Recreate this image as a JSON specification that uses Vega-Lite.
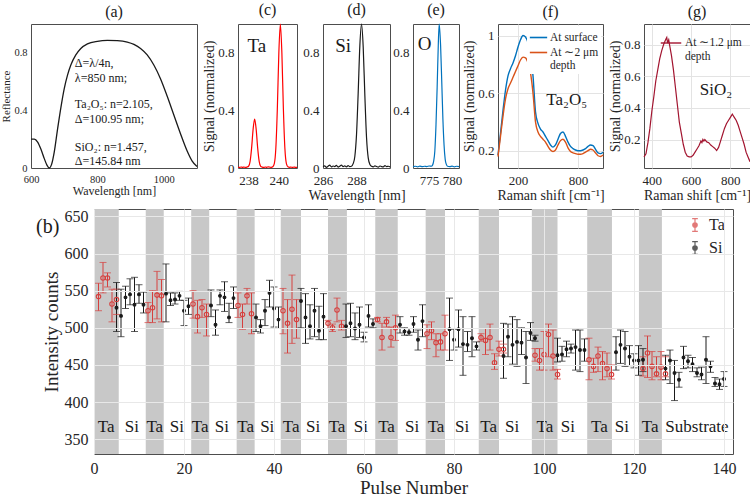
{
"$schema": "https://vega.github.io/schema/vega-lite/v6.json",
"background": "white",
"padding": {"left": 0, "top": 1, "right": 0, "bottom": 0},
"spacing": 4,
"resolve": {"scale": {"stroke": "independent", "color": "independent"}, "legend": {"stroke": "independent", "color": "independent"}},
"config": {
  "font": "Liberation Serif",
  "view": {"stroke": "#4d4d4d", "strokeWidth": 1},
  "axis": {"ticks": false, "domain": false, "grid": false, "labelColor": "#262626", "titleColor": "#262626", "titleFontWeight": "normal", "labelFont": "Liberation Serif", "titleFont": "Liberation Serif", "labelOverlap": false, "labelFlush": false, "gridColor": "#e3e3e3", "labelFontSize": 13, "titleFontSize": 14},
  "axisX": {"labelPadding": 6, "titlePadding": 1},
  "axisY": {"labelPadding": 4, "titlePadding": 1},
  "title": {"font": "Liberation Serif", "fontWeight": "normal", "fontSize": 16, "offset": 4, "color": "#1a1a1a"},
  "legend": {"labelFont": "Liberation Serif", "labelColor": "#262626"},
  "text": {"font": "Liberation Serif", "color": "#1a1a1a"}
},
"datasets": {
  "refl": [{"x":600,"y":0.2},{"x":610,"y":0.2},{"x":620,"y":0.18},{"x":630,"y":0.13},{"x":640,"y":0.065},{"x":648,"y":0.02},{"x":655,"y":0.0},{"x":662,"y":0.025},{"x":670,"y":0.11},{"x":680,"y":0.27},{"x":690,"y":0.42},{"x":700,"y":0.55},{"x":710,"y":0.645},{"x":720,"y":0.715},{"x":735,"y":0.785},{"x":750,"y":0.83},{"x":770,"y":0.862},{"x":800,"y":0.88},{"x":830,"y":0.886},{"x":860,"y":0.884},{"x":890,"y":0.874},{"x":910,"y":0.858},{"x":930,"y":0.83},{"x":950,"y":0.785},{"x":970,"y":0.715},{"x":990,"y":0.62},{"x":1010,"y":0.5},{"x":1030,"y":0.37},{"x":1050,"y":0.24},{"x":1070,"y":0.12},{"x":1085,"y":0.05},{"x":1100,"y":0.01}],
  "c": [{"x":237.3,"y":0.005},{"x":237.4,"y":0.004},{"x":237.5,"y":0.007},{"x":237.6,"y":0.005},{"x":237.7,"y":0.006},{"x":237.8,"y":0.004},{"x":237.9,"y":0.007},{"x":238.0,"y":0.012},{"x":238.1,"y":0.046},{"x":238.2,"y":0.14},{"x":238.3,"y":0.27},{"x":238.4,"y":0.34},{"x":238.5,"y":0.27},{"x":238.6,"y":0.14},{"x":238.7,"y":0.046},{"x":238.8,"y":0.012},{"x":238.9,"y":0.006},{"x":239.0,"y":0.004},{"x":239.1,"y":0.007},{"x":239.2,"y":0.005},{"x":239.3,"y":0.008},{"x":239.4,"y":0.006},{"x":239.5,"y":0.004},{"x":239.6,"y":0.008},{"x":239.7,"y":0.03},{"x":239.8,"y":0.135},{"x":239.9,"y":0.41},{"x":240.0,"y":0.8},{"x":240.1,"y":1.0},{"x":240.2,"y":0.8},{"x":240.3,"y":0.41},{"x":240.4,"y":0.135},{"x":240.5,"y":0.03},{"x":240.6,"y":0.008},{"x":240.7,"y":0.005},{"x":240.8,"y":0.006},{"x":240.9,"y":0.004},{"x":241.0,"y":0.006},{"x":241.1,"y":0.005},{"x":241.2,"y":0.005}],
  "d": [{"x":286.0,"y":0.01},{"x":286.1,"y":0.015},{"x":286.2,"y":0.005},{"x":286.3,"y":0.012},{"x":286.4,"y":0.02},{"x":286.5,"y":0.008},{"x":286.6,"y":0.014},{"x":286.7,"y":0.01},{"x":286.8,"y":0.018},{"x":286.9,"y":0.006},{"x":287.0,"y":0.012},{"x":287.1,"y":0.02},{"x":287.2,"y":0.01},{"x":287.3,"y":0.015},{"x":287.4,"y":0.008},{"x":287.5,"y":0.016},{"x":287.6,"y":0.01},{"x":287.7,"y":0.012},{"x":287.8,"y":0.03},{"x":287.9,"y":0.08},{"x":288.0,"y":0.23},{"x":288.1,"y":0.52},{"x":288.2,"y":0.85},{"x":288.3,"y":1.0},{"x":288.4,"y":0.84},{"x":288.5,"y":0.5},{"x":288.6,"y":0.21},{"x":288.7,"y":0.07},{"x":288.8,"y":0.025},{"x":288.9,"y":0.012},{"x":289.0,"y":0.008},{"x":289.1,"y":0.015},{"x":289.2,"y":0.01},{"x":289.3,"y":0.006},{"x":289.4,"y":0.014},{"x":289.5,"y":0.01},{"x":289.6,"y":0.008},{"x":289.7,"y":0.016},{"x":289.8,"y":0.01},{"x":289.9,"y":0.012},{"x":290.0,"y":0.008}],
  "e": [{"x":771.5,"y":0.01},{"x":772,"y":0.012},{"x":772.5,"y":0.008},{"x":773,"y":0.013},{"x":773.5,"y":0.009},{"x":774,"y":0.012},{"x":774.5,"y":0.01},{"x":775,"y":0.014},{"x":775.5,"y":0.012},{"x":775.75,"y":0.02},{"x":776,"y":0.05},{"x":776.25,"y":0.12},{"x":776.5,"y":0.3},{"x":776.75,"y":0.56},{"x":777,"y":0.86},{"x":777.2,"y":1.0},{"x":777.5,"y":0.85},{"x":777.75,"y":0.6},{"x":778,"y":0.34},{"x":778.25,"y":0.16},{"x":778.5,"y":0.06},{"x":778.75,"y":0.025},{"x":779,"y":0.012},{"x":779.5,"y":0.01},{"x":780,"y":0.013},{"x":780.5,"y":0.008},{"x":781,"y":0.012},{"x":781.5,"y":0.01}],
  "f": [
    {"x":0,"y":0.17,"s":"At surface"},{"x":25,"y":0.32,"s":"At surface"},{"x":50,"y":0.48,"s":"At surface"},{"x":75,"y":0.62,"s":"At surface"},{"x":100,"y":0.72,"s":"At surface"},{"x":125,"y":0.77,"s":"At surface"},{"x":150,"y":0.81,"s":"At surface"},{"x":175,"y":0.86,"s":"At surface"},{"x":200,"y":0.92,"s":"At surface"},{"x":225,"y":0.97,"s":"At surface"},{"x":250,"y":1.0,"s":"At surface"},{"x":275,"y":0.99,"s":"At surface"},{"x":300,"y":0.95,"s":"At surface"},{"x":325,"y":0.87,"s":"At surface"},{"x":350,"y":0.72,"s":"At surface"},{"x":375,"y":0.47,"s":"At surface"},{"x":400,"y":0.39,"s":"At surface"},{"x":425,"y":0.35,"s":"At surface"},{"x":450,"y":0.33,"s":"At surface"},{"x":475,"y":0.3,"s":"At surface"},{"x":500,"y":0.27,"s":"At surface"},{"x":525,"y":0.24,"s":"At surface"},{"x":550,"y":0.225,"s":"At surface"},{"x":575,"y":0.24,"s":"At surface"},{"x":600,"y":0.28,"s":"At surface"},{"x":625,"y":0.32,"s":"At surface"},{"x":650,"y":0.33,"s":"At surface"},{"x":675,"y":0.3,"s":"At surface"},{"x":700,"y":0.26,"s":"At surface"},{"x":725,"y":0.23,"s":"At surface"},{"x":750,"y":0.215,"s":"At surface"},{"x":775,"y":0.205,"s":"At surface"},{"x":800,"y":0.2,"s":"At surface"},{"x":825,"y":0.2,"s":"At surface"},{"x":850,"y":0.205,"s":"At surface"},{"x":875,"y":0.215,"s":"At surface"},{"x":900,"y":0.23,"s":"At surface"},{"x":925,"y":0.24,"s":"At surface"},{"x":950,"y":0.235,"s":"At surface"},{"x":975,"y":0.21,"s":"At surface"},{"x":1000,"y":0.185,"s":"At surface"},{"x":1025,"y":0.18,"s":"At surface"},{"x":1050,"y":0.19,"s":"At surface"},
    {"x":0,"y":0.16,"s":"At ∼2 μm depth"},{"x":25,"y":0.3,"s":"At ∼2 μm depth"},{"x":50,"y":0.44,"s":"At ∼2 μm depth"},{"x":75,"y":0.56,"s":"At ∼2 μm depth"},{"x":100,"y":0.63,"s":"At ∼2 μm depth"},{"x":125,"y":0.67,"s":"At ∼2 μm depth"},{"x":150,"y":0.71,"s":"At ∼2 μm depth"},{"x":175,"y":0.75,"s":"At ∼2 μm depth"},{"x":200,"y":0.79,"s":"At ∼2 μm depth"},{"x":225,"y":0.83,"s":"At ∼2 μm depth"},{"x":250,"y":0.85,"s":"At ∼2 μm depth"},{"x":275,"y":0.845,"s":"At ∼2 μm depth"},{"x":300,"y":0.81,"s":"At ∼2 μm depth"},{"x":325,"y":0.74,"s":"At ∼2 μm depth"},{"x":350,"y":0.6,"s":"At ∼2 μm depth"},{"x":375,"y":0.4,"s":"At ∼2 μm depth"},{"x":400,"y":0.33,"s":"At ∼2 μm depth"},{"x":425,"y":0.3,"s":"At ∼2 μm depth"},{"x":450,"y":0.28,"s":"At ∼2 μm depth"},{"x":475,"y":0.26,"s":"At ∼2 μm depth"},{"x":500,"y":0.23,"s":"At ∼2 μm depth"},{"x":525,"y":0.205,"s":"At ∼2 μm depth"},{"x":550,"y":0.195,"s":"At ∼2 μm depth"},{"x":575,"y":0.205,"s":"At ∼2 μm depth"},{"x":600,"y":0.24,"s":"At ∼2 μm depth"},{"x":625,"y":0.27,"s":"At ∼2 μm depth"},{"x":650,"y":0.28,"s":"At ∼2 μm depth"},{"x":675,"y":0.26,"s":"At ∼2 μm depth"},{"x":700,"y":0.22,"s":"At ∼2 μm depth"},{"x":725,"y":0.195,"s":"At ∼2 μm depth"},{"x":750,"y":0.185,"s":"At ∼2 μm depth"},{"x":775,"y":0.18,"s":"At ∼2 μm depth"},{"x":800,"y":0.175,"s":"At ∼2 μm depth"},{"x":825,"y":0.175,"s":"At ∼2 μm depth"},{"x":850,"y":0.18,"s":"At ∼2 μm depth"},{"x":875,"y":0.19,"s":"At ∼2 μm depth"},{"x":900,"y":0.2,"s":"At ∼2 μm depth"},{"x":925,"y":0.21,"s":"At ∼2 μm depth"},{"x":950,"y":0.205,"s":"At ∼2 μm depth"},{"x":975,"y":0.185,"s":"At ∼2 μm depth"},{"x":1000,"y":0.165,"s":"At ∼2 μm depth"},{"x":1025,"y":0.16,"s":"At ∼2 μm depth"},{"x":1050,"y":0.17,"s":"At ∼2 μm depth"}
  ],
  "g": [{"x":360,"y":0.09},{"x":370,"y":0.11},{"x":380,"y":0.18},{"x":390,"y":0.27},{"x":400,"y":0.38},{"x":410,"y":0.47},{"x":420,"y":0.57},{"x":430,"y":0.64},{"x":440,"y":0.71},{"x":450,"y":0.76},{"x":460,"y":0.8},{"x":470,"y":0.83},{"x":476,"y":0.845},{"x":480,"y":0.81},{"x":486,"y":0.83},{"x":490,"y":0.8},{"x":500,"y":0.73},{"x":510,"y":0.64},{"x":520,"y":0.53},{"x":530,"y":0.42},{"x":540,"y":0.31},{"x":550,"y":0.24},{"x":560,"y":0.17},{"x":570,"y":0.12},{"x":580,"y":0.095},{"x":590,"y":0.09},{"x":600,"y":0.09},{"x":610,"y":0.1},{"x":620,"y":0.12},{"x":630,"y":0.14},{"x":640,"y":0.16},{"x":650,"y":0.19},{"x":655,"y":0.18},{"x":660,"y":0.2},{"x":665,"y":0.19},{"x":670,"y":0.2},{"x":680,"y":0.185},{"x":690,"y":0.18},{"x":700,"y":0.165},{"x":710,"y":0.155},{"x":720,"y":0.145},{"x":730,"y":0.13},{"x":740,"y":0.15},{"x":750,"y":0.19},{"x":760,"y":0.23},{"x":770,"y":0.27},{"x":780,"y":0.3},{"x":790,"y":0.32},{"x":800,"y":0.34},{"x":810,"y":0.36},{"x":815,"y":0.35},{"x":820,"y":0.34},{"x":830,"y":0.32},{"x":840,"y":0.29},{"x":850,"y":0.25},{"x":860,"y":0.21},{"x":870,"y":0.17},{"x":880,"y":0.12},{"x":890,"y":0.09},{"x":900,"y":0.06}],
  "bands": [{"a":0,"b":5.5},{"a":11.5,"b":15.5},{"a":21.6,"b":25.6},{"a":31.7,"b":35.7},{"a":41.5,"b":46},{"a":52,"b":56.2},{"a":62.5,"b":67.5},{"a":73.7,"b":78},{"a":85.5,"b":90},{"a":97.3,"b":103},{"a":109.6,"b":115.1},{"a":121.1,"b":126.2}],
  "labs": [{"p":2.7,"t":"Ta"},{"p":8.4,"t":"Si"},{"p":13.5,"t":"Ta"},{"p":18.4,"t":"Si"},{"p":23.6,"t":"Ta"},{"p":28.4,"t":"Si"},{"p":33.7,"t":"Ta"},{"p":38.5,"t":"Si"},{"p":43.8,"t":"Ta"},{"p":48.7,"t":"Si"},{"p":54,"t":"Ta"},{"p":59.3,"t":"Si"},{"p":65,"t":"Ta"},{"p":70.7,"t":"Si"},{"p":76,"t":"Ta"},{"p":81.8,"t":"Si"},{"p":87.7,"t":"Ta"},{"p":92.9,"t":"Si"},{"p":100.2,"t":"Ta"},{"p":105.3,"t":"Si"},{"p":112.3,"t":"Ta"},{"p":117.3,"t":"Si"},{"p":123.6,"t":"Ta"},{"p":134,"t":"Substrate"}],
  "main": [
    {"p":1,"el":"Ta","v":542,"lo":523,"hi":560},{"p":2,"el":"Ta","v":567,"lo":547,"hi":588},{"p":3,"el":"Ta","v":567,"lo":555,"hi":574},{"p":4,"el":"Ta","v":532,"lo":508,"hi":552},{"p":5,"el":"Ta","v":538,"lo":518,"hi":552},
    {"p":12,"el":"Ta","v":523,"lo":507,"hi":534},{"p":13,"el":"Ta","v":527,"lo":507,"hi":550},{"p":14,"el":"Ta","v":544,"lo":512,"hi":576},{"p":15,"el":"Ta","v":543,"lo":508,"hi":565},
    {"p":22,"el":"Ta","v":532,"lo":513,"hi":550},{"p":23,"el":"Ta","v":515,"lo":493,"hi":537},{"p":24,"el":"Ta","v":527,"lo":514,"hi":538},{"p":25,"el":"Ta","v":518,"lo":489,"hi":532},
    {"p":32,"el":"Ta","v":530,"lo":514,"hi":547},{"p":33,"el":"Ta","v":518,"lo":498,"hi":532},{"p":34,"el":"Ta","v":543,"lo":532,"hi":553},{"p":35,"el":"Ta","v":519,"lo":492,"hi":547},
    {"p":42,"el":"Ta","v":523,"lo":492,"hi":553},{"p":43,"el":"Ta","v":506,"lo":466,"hi":538},{"p":44,"el":"Ta","v":525,"lo":479,"hi":571},{"p":45,"el":"Ta","v":511,"lo":486,"hi":538},
    {"p":52,"el":"Ta","v":506,"lo":499,"hi":510},{"p":53,"el":"Ta","v":500,"lo":495,"hi":505},{"p":54,"el":"Ta","v":524,"lo":508,"hi":540},{"p":55,"el":"Ta","v":502,"lo":497,"hi":510},
    {"p":63,"el":"Ta","v":511,"lo":508,"hi":514},{"p":64,"el":"Ta","v":487,"lo":470,"hi":506},{"p":65,"el":"Ta","v":508,"lo":501,"hi":514},{"p":66,"el":"Ta","v":487,"lo":474,"hi":501},{"p":67,"el":"Ta","v":500,"lo":483,"hi":517},
    {"p":74,"el":"Ta","v":492,"lo":472,"hi":504},{"p":75,"el":"Ta","v":496,"lo":484,"hi":508},{"p":76,"el":"Ta","v":480,"lo":461,"hi":492},{"p":77,"el":"Ta","v":481,"lo":470,"hi":492},{"p":78,"el":"Ta","v":492,"lo":470,"hi":517},
    {"p":86,"el":"Ta","v":487,"lo":482,"hi":492},{"p":87,"el":"Ta","v":483,"lo":464,"hi":499},{"p":88,"el":"Ta","v":487,"lo":470,"hi":505},{"p":89,"el":"Ta","v":453,"lo":444,"hi":465},{"p":90,"el":"Ta","v":471,"lo":462,"hi":482},{"p":91,"el":"Ta","v":471,"lo":466,"hi":478},
    {"p":98,"el":"Ta","v":463,"lo":455,"hi":472},{"p":99,"el":"Ta","v":456,"lo":443,"hi":472},{"p":100,"el":"Ta","v":464,"lo":443,"hi":495},{"p":101,"el":"Ta","v":491,"lo":461,"hi":505},{"p":102,"el":"Ta","v":462,"lo":443,"hi":497},{"p":103,"el":"Ta","v":437,"lo":431,"hi":444},
    {"p":110,"el":"Ta","v":457,"lo":430,"hi":486},{"p":111,"el":"Ta","v":448,"lo":440,"hi":459},{"p":112,"el":"Ta","v":462,"lo":441,"hi":474},{"p":113,"el":"Ta","v":452,"lo":430,"hi":468},{"p":114,"el":"Ta","v":445,"lo":434,"hi":466},{"p":115,"el":"Ta","v":437,"lo":431,"hi":450},
    {"p":122,"el":"Ta","v":445,"lo":435,"hi":461},{"p":123,"el":"Ta","v":466,"lo":433,"hi":489},{"p":124,"el":"Ta","v":448,"lo":430,"hi":468},{"p":125,"el":"Ta","v":438,"lo":434,"hi":461},{"p":126,"el":"Ta","v":447,"lo":430,"hi":468},{"p":127,"el":"Ta","v":438,"lo":434,"hi":461},
    {"p":5,"el":"Si","v":527,"lo":495,"hi":561},{"p":6,"el":"Si","v":516,"lo":488,"hi":552},{"p":7,"el":"Si","v":541,"lo":526,"hi":556},{"p":8,"el":"Si","v":545,"lo":531,"hi":566},{"p":9,"el":"Si","v":531,"lo":495,"hi":568},{"p":10,"el":"Si","v":545,"lo":533,"hi":558},{"p":11,"el":"Si","v":531,"lo":520,"hi":548},
    {"p":16,"el":"Si","v":546,"lo":508,"hi":586},{"p":17,"el":"Si","v":537,"lo":530,"hi":547},{"p":18,"el":"Si","v":538,"lo":532,"hi":547},{"p":19,"el":"Si","v":543,"lo":537,"hi":549},{"p":20,"el":"Si","v":523,"lo":503,"hi":537},{"p":21,"el":"Si","v":529,"lo":518,"hi":540},
    {"p":26,"el":"Si","v":530,"lo":515,"hi":551},{"p":27,"el":"Si","v":504,"lo":490,"hi":524},{"p":28,"el":"Si","v":543,"lo":531,"hi":551},{"p":29,"el":"Si","v":541,"lo":522,"hi":562},{"p":30,"el":"Si","v":514,"lo":507,"hi":533},{"p":31,"el":"Si","v":540,"lo":526,"hi":555},
    {"p":36,"el":"Si","v":514,"lo":495,"hi":532},{"p":37,"el":"Si","v":502,"lo":493,"hi":511},{"p":38,"el":"Si","v":523,"lo":503,"hi":538},{"p":39,"el":"Si","v":547,"lo":528,"hi":564},{"p":40,"el":"Si","v":526,"lo":501,"hi":555},{"p":41,"el":"Si","v":511,"lo":499,"hi":528},
    {"p":46,"el":"Si","v":536,"lo":500,"hi":553},{"p":47,"el":"Si","v":514,"lo":479,"hi":546},{"p":48,"el":"Si","v":502,"lo":485,"hi":531},{"p":49,"el":"Si","v":523,"lo":488,"hi":553},{"p":50,"el":"Si","v":496,"lo":484,"hi":529},{"p":51,"el":"Si","v":515,"lo":484,"hi":546},
    {"p":56,"el":"Si","v":502,"lo":487,"hi":532},{"p":57,"el":"Si","v":506,"lo":488,"hi":533},{"p":58,"el":"Si","v":499,"lo":484,"hi":520},{"p":59,"el":"Si","v":504,"lo":487,"hi":528},{"p":60,"el":"Si","v":487,"lo":481,"hi":494},{"p":61,"el":"Si","v":516,"lo":501,"hi":531},{"p":62,"el":"Si","v":505,"lo":500,"hi":512},
    {"p":68,"el":"Si","v":504,"lo":493,"hi":515},{"p":69,"el":"Si","v":495,"lo":490,"hi":500},{"p":70,"el":"Si","v":494,"lo":490,"hi":499},{"p":71,"el":"Si","v":505,"lo":494,"hi":515},{"p":72,"el":"Si","v":484,"lo":470,"hi":497},{"p":73,"el":"Si","v":509,"lo":488,"hi":531},
    {"p":79,"el":"Si","v":498,"lo":456,"hi":540},{"p":80,"el":"Si","v":484,"lo":470,"hi":498},{"p":81,"el":"Si","v":498,"lo":474,"hi":524},{"p":82,"el":"Si","v":478,"lo":436,"hi":515},{"p":83,"el":"Si","v":477,"lo":468,"hi":495},{"p":84,"el":"Si","v":486,"lo":461,"hi":515},{"p":85,"el":"Si","v":475,"lo":470,"hi":481},
    {"p":91,"el":"Si","v":462,"lo":432,"hi":506},{"p":92,"el":"Si","v":488,"lo":461,"hi":505},{"p":93,"el":"Si","v":477,"lo":451,"hi":515},{"p":94,"el":"Si","v":481,"lo":448,"hi":511},{"p":95,"el":"Si","v":480,"lo":464,"hi":500},{"p":96,"el":"Si","v":460,"lo":425,"hi":495},{"p":97,"el":"Si","v":493,"lo":483,"hi":507},{"p":98,"el":"Si","v":486,"lo":482,"hi":490},
    {"p":103,"el":"Si","v":463,"lo":454,"hi":486},{"p":104,"el":"Si","v":464,"lo":455,"hi":475},{"p":105,"el":"Si","v":471,"lo":461,"hi":482},{"p":106,"el":"Si","v":472,"lo":466,"hi":478},{"p":107,"el":"Si","v":474,"lo":443,"hi":497},{"p":108,"el":"Si","v":470,"lo":441,"hi":497},{"p":109,"el":"Si","v":470,"lo":455,"hi":485},
    {"p":116,"el":"Si","v":467,"lo":443,"hi":488},{"p":117,"el":"Si","v":477,"lo":452,"hi":497},{"p":118,"el":"Si","v":472,"lo":448,"hi":495},{"p":119,"el":"Si","v":461,"lo":449,"hi":476},{"p":120,"el":"Si","v":456,"lo":446,"hi":465},{"p":121,"el":"Si","v":456,"lo":436,"hi":476},{"p":122,"el":"Si","v":457,"lo":441,"hi":472},
    {"p":127,"el":"Si","v":445,"lo":430,"hi":463},{"p":128,"el":"Si","v":456,"lo":425,"hi":470},{"p":129,"el":"Si","v":439,"lo":402,"hi":456},{"p":130,"el":"Si","v":430,"lo":420,"hi":440},{"p":131,"el":"Si","v":460,"lo":445,"hi":475},{"p":132,"el":"Si","v":455,"lo":446,"hi":463},{"p":133,"el":"Si","v":451,"lo":441,"hi":460},{"p":134,"el":"Si","v":439,"lo":434,"hi":446},{"p":135,"el":"Si","v":437,"lo":430,"hi":447},{"p":136,"el":"Si","v":457,"lo":425,"hi":488},{"p":137,"el":"Si","v":448,"lo":440,"hi":455},{"p":138,"el":"Si","v":425,"lo":421,"hi":433},{"p":139,"el":"Si","v":424,"lo":417,"hi":431},{"p":140,"el":"Si","v":431,"lo":421,"hi":441}
  ]
},
"vconcat": [
 {
  "spacing": 0,
  "bounds": "flush",
  "resolve": {"scale": {"stroke": "independent", "color": "independent"}, "legend": {"stroke": "independent"}},
  "hconcat": [
  {"width": 31, "height": 144, "view": {"stroke": null}, "data": {"values": [{}]}, "mark": {"type": "point", "opacity": 0}, "encoding": {}},
  {
    "width": 166, "height": 144, "title": "(a)",
    "layer": [
      {"data": {"name": "refl"}, "mark": {"type": "line", "color": "#1a1a1a", "strokeWidth": 1.3, "interpolate": "monotone"},
       "encoding": {
         "x": {"field": "x", "type": "quantitative", "scale": {"domain": [600, 1100], "nice": false}, "axis": {"values": [600,700,800,900,1000,1100], "format": "d", "labelOverlap": false, "title": "Wavelength [nm]", "labelFontSize": 10.5, "titleFontSize": 12, "labelPadding": 6, "titlePadding": 1}},
         "y": {"field": "y", "type": "quantitative", "scale": {"domain": [0, 1], "nice": false}, "axis": {"values": [0,0.2,0.4,0.6,0.8,1], "format": "~g", "labelOverlap": false, "title": "Reflectance", "labelFontSize": 10.5, "titleFontSize": 11, "labelPadding": 4, "titlePadding": 2}}
       }},
      {"data": {"values": [{}]}, "mark": {"type": "text", "align": "left", "baseline": "top", "fontSize": 12, "lineHeight": 15, "text": ["Δ=λ/4n,", "λ=850 nm;"]},
       "encoding": {"x": {"datum": 732}, "y": {"datum": 0.765}}},
      {"data": {"values": [{}]}, "mark": {"type": "text", "align": "left", "baseline": "top", "fontSize": 12, "lineHeight": 15, "text": ["Ta₂O₅: n=2.105,", "Δ=100.95 nm;"]},
       "encoding": {"x": {"datum": 732}, "y": {"datum": 0.476}}},
      {"data": {"values": [{}]}, "mark": {"type": "text", "align": "left", "baseline": "top", "fontSize": 12, "lineHeight": 14, "text": ["SiO₂: n=1.457,", "Δ=145.84 nm"]},
       "encoding": {"x": {"datum": 732}, "y": {"datum": 0.184}}}
    ]
  },
  {"width": 41, "height": 144, "view": {"stroke": null}, "data": {"values": [{}]}, "mark": {"type": "point", "opacity": 0}, "encoding": {}},
  {
    "width": 59, "height": 144, "title": "(c)",
    "layer": [
      {"data": {"name": "c"}, "mark": {"type": "line", "color": "#ff0000", "strokeWidth": 1.2, "interpolate": "monotone"},
       "encoding": {
         "x": {"field": "x", "type": "quantitative", "scale": {"domain": [237.3, 241.2], "nice": false}, "axis": {"values": [238, 240], "labelOverlap": false, "title": null}},
         "y": {"field": "y", "type": "quantitative", "scale": {"domain": [0, 1], "nice": false}, "axis": {"values": [0,0.2,0.4,0.6,0.8,1], "format": "~g", "labelOverlap": false, "title": "Signal (normalized)"}}
       }},
      {"data": {"values": [{}]}, "mark": {"type": "text", "text": "Ta", "fontSize": 19}, "encoding": {"x": {"datum": 238.55}, "y": {"datum": 0.85}}}
    ]
  },
  {"width": 26, "height": 144, "view": {"stroke": null}, "data": {"values": [{}]}, "mark": {"type": "point", "opacity": 0}, "encoding": {}},
  {
    "width": 67, "height": 144, "title": "(d)",
    "layer": [
      {"data": {"name": "d"}, "mark": {"type": "line", "color": "#1a1a1a", "strokeWidth": 1.2, "interpolate": "monotone"},
       "encoding": {
         "x": {"field": "x", "type": "quantitative", "scale": {"domain": [286, 290], "nice": false}, "axis": {"values": [286, 288], "labelOverlap": false, "title": "Wavelength [nm]"}},
         "y": {"field": "y", "type": "quantitative", "scale": {"domain": [0, 1], "nice": false}, "axis": {"values": [0,0.2,0.4,0.6,0.8,1], "format": "~g", "labelOverlap": false, "title": null}}
       }},
      {"data": {"values": [{}]}, "mark": {"type": "text", "text": "Si", "fontSize": 19}, "encoding": {"x": {"datum": 287.2}, "y": {"datum": 0.85}}}
    ]
  },
  {"width": 23, "height": 144, "view": {"stroke": null}, "data": {"values": [{}]}, "mark": {"type": "point", "opacity": 0}, "encoding": {}},
  {
    "width": 46, "height": 144, "title": "(e)",
    "layer": [
      {"data": {"name": "e"}, "mark": {"type": "line", "color": "#0072bd", "strokeWidth": 1.2, "interpolate": "monotone"},
       "encoding": {
         "x": {"field": "x", "type": "quantitative", "scale": {"domain": [771.5, 781.5], "nice": false}, "axis": {"values": [775, 780], "labelOverlap": false, "title": null}},
         "y": {"field": "y", "type": "quantitative", "scale": {"domain": [0, 1], "nice": false}, "axis": {"values": [0,0.2,0.4,0.6,0.8,1], "format": "~g", "labelOverlap": false, "title": null}}
       }},
      {"data": {"values": [{}]}, "mark": {"type": "text", "text": "O", "fontSize": 19}, "encoding": {"x": {"datum": 774}, "y": {"datum": 0.86}}}
    ]
  },
  {"width": 39, "height": 144, "view": {"stroke": null}, "data": {"values": [{}]}, "mark": {"type": "point", "opacity": 0}, "encoding": {}},
  {
    "width": 105, "height": 144, "title": "(f)",
    "layer": [
      {"data": {"name": "f"}, "mark": {"type": "line", "strokeWidth": 1.4, "interpolate": "monotone"},
       "encoding": {
         "x": {"field": "x", "type": "quantitative", "scale": {"domain": [0, 1050], "nice": false}, "axis": {"values": [200,400,600,800], "labelOverlap": false, "title": "Raman shift [cm⁻¹]", "grid": true}},
         "y": {"field": "y", "type": "quantitative", "scale": {"domain": [0.08, 1.08], "nice": false}, "axis": {"values": [0.2,0.4,0.6,0.8,1], "format": "~g", "labelOverlap": false, "title": "Signal (normalized)", "grid": true}},
         "stroke": {"field": "s", "type": "nominal", "scale": {"domain": ["At surface", "At ∼2 μm depth"], "range": ["#0072bd", "#d95319"]},
           "legend": {"title": null, "orient": "top-right", "offset": 2, "padding": 2, "labelFontSize": 11.5, "symbolType": "stroke", "symbolSize": 300, "symbolStrokeWidth": 1.6, "rowPadding": 0, "labelOffset": 2, "fillColor": "white", "labelExpr": "datum.label === 'At ∼2 μm depth' ? ['At ∼2 μm', 'depth'] : datum.label"}}
       }},
      {"data": {"values": [{}]}, "mark": {"type": "text", "text": "Ta₂O₅", "fontSize": 17}, "encoding": {"x": {"datum": 687}, "y": {"datum": 0.55}}}
    ]
  },
  {"width": 41, "height": 144, "view": {"stroke": null}, "data": {"values": [{}]}, "mark": {"type": "point", "opacity": 0}, "encoding": {}},
  {
    "width": 106, "height": 144, "title": "(g)",
    "layer": [
      {"data": {"name": "g"}, "mark": {"type": "line", "strokeWidth": 1.2},
       "encoding": {
         "x": {"field": "x", "type": "quantitative", "scale": {"domain": [360, 900], "nice": false}, "axis": {"values": [400,600,800], "labelOverlap": false, "title": "Raman shift [cm⁻¹]", "grid": true}},
         "y": {"field": "y", "type": "quantitative", "scale": {"domain": [0.02, 0.93], "nice": false}, "axis": {"values": [0.2,0.4,0.6,0.8], "format": "~g", "labelOverlap": false, "title": "Signal (normalized)", "grid": true}},
         "stroke": {"datum": "At ∼1.2 μm depth", "type": "nominal", "scale": {"range": ["#a2142f"]},
           "legend": {"title": null, "orient": "top-right", "offset": 6, "padding": 2, "labelFontSize": 11.5, "symbolType": "stroke", "symbolSize": 420, "symbolStrokeWidth": 1.4, "labelOffset": 3, "labelExpr": "['At ∼1.2 μm', 'depth']"}}
       }},
      {"data": {"values": [{}]}, "mark": {"type": "text", "text": "SiO₂", "fontSize": 17}, "encoding": {"x": {"datum": 727}, "y": {"datum": 0.51}}}
    ]
  }
  ]
 },
 {
  "spacing": 0,
  "bounds": "flush",
  "resolve": {"scale": {"stroke": "independent", "color": "independent"}, "legend": {"stroke": "independent", "color": "independent"}},
  "hconcat": [
  {"width": 94, "height": 245, "view": {"stroke": null}, "data": {"values": [{}]}, "mark": {"type": "point", "opacity": 0}, "encoding": {}},
  {
    "width": 639, "height": 245,
    "view": {"stroke": "#4d4d4d"},
    "layer": [
      {"data": {"name": "bands"}, "mark": {"type": "rect", "color": "#c8c8c8"},
       "encoding": {
         "x": {"field": "a", "type": "quantitative", "title": "Pulse Number", "scale": {"domain": [0, 142], "nice": false}, "axis": {"values": [0,20,40,60,80,100,120,140], "labelOverlap": false, "grid": true, "gridColor": "#e8e8e8", "zindex": 1, "labelFontSize": 16, "titleFontSize": 19, "labelPadding": 6, "titlePadding": 2}},
         "x2": {"field": "b"}
       }},
      {"data": {"name": "labs"}, "mark": {"type": "text", "fontSize": 17},
       "encoding": {
         "x": {"field": "p", "type": "quantitative", "title": "Pulse Number", "scale": {"domain": [0, 142], "nice": false}},
         "y": {"datum": 366, "type": "quantitative", "title": "Intensity counts", "scale": {"domain": [330, 660], "nice": false}, "axis": {"values": [350,400,450,500,550,600,650], "labelOverlap": false, "grid": true, "gridColor": "#e8e8e8", "zindex": 1, "labelFontSize": 16, "titleFontSize": 19, "labelPadding": 6, "titlePadding": 3}},
         "text": {"field": "t"}
       }},
      {"data": {"name": "main"}, "mark": {"type": "rule", "strokeWidth": 1},
       "encoding": {
         "x": {"field": "p", "type": "quantitative", "title": "Pulse Number", "scale": {"domain": [0, 142], "nice": false}},
         "y": {"field": "lo", "type": "quantitative", "title": "Intensity counts", "scale": {"domain": [330, 660], "nice": false}},
         "y2": {"field": "hi"},
         "color": {"field": "el", "type": "nominal", "title": null, "scale": {"domain": ["Ta", "Si"], "range": ["#d6403e", "#1a1a1a"]}}
       }},
      {"data": {"name": "main"}, "mark": {"type": "tick", "orient": "horizontal", "size": 7, "thickness": 1},
       "encoding": {
         "x": {"field": "p", "type": "quantitative", "title": "Pulse Number", "scale": {"domain": [0, 142], "nice": false}},
         "y": {"field": "lo", "type": "quantitative", "title": "Intensity counts", "scale": {"domain": [330, 660], "nice": false}},
         "color": {"field": "el", "type": "nominal", "title": null, "scale": {"domain": ["Ta", "Si"], "range": ["#d6403e", "#1a1a1a"]}}
       }},
      {"data": {"name": "main"}, "mark": {"type": "tick", "orient": "horizontal", "size": 7, "thickness": 1},
       "encoding": {
         "x": {"field": "p", "type": "quantitative", "title": "Pulse Number", "scale": {"domain": [0, 142], "nice": false}},
         "y": {"field": "hi", "type": "quantitative", "title": "Intensity counts", "scale": {"domain": [330, 660], "nice": false}},
         "color": {"field": "el", "type": "nominal", "title": null, "scale": {"domain": ["Ta", "Si"], "range": ["#d6403e", "#1a1a1a"]}}
       }},
      {"data": {"name": "main"}, "mark": {"type": "point", "filled": false, "strokeWidth": 1.1, "opacity": 1},
       "encoding": {
         "x": {"field": "p", "type": "quantitative", "title": "Pulse Number", "scale": {"domain": [0, 142], "nice": false}},
         "y": {"field": "v", "type": "quantitative", "title": "Intensity counts", "scale": {"domain": [330, 660], "nice": false}},
         "color": {"field": "el", "type": "nominal", "title": null, "scale": {"domain": ["Ta", "Si"], "range": ["#d6403e", "#1a1a1a"]},
           "legend": {"title": null, "orient": "top-right", "offset": 4, "padding": 4, "labelFontSize": 16, "symbolType": "M0,-1V-0.35M0,0.35V1M-0.45,-1H0.45M-0.45,1H0.45M0.35,0A0.35,0.35 0 1 1 -0.35,0A0.35,0.35 0 1 1 0.35,0", "symbolSize": 160, "symbolStrokeWidth": 1.2, "rowPadding": 5, "labelOffset": 6, "fillColor": "white"}},
         "fill": {"condition": {"test": "datum.el === 'Si'", "value": "#1a1a1a"}, "value": "transparent"},
         "size": {"condition": {"test": "datum.el === 'Si'", "value": 8}, "value": 20}
       }},
      {"data": {"values": [{}]}, "mark": {"type": "text", "text": "(b)", "fontSize": 20}, "encoding": {"x": {"datum": -10.3}, "y": {"datum": 636}}}
    ]
  }
  ]
 }
]
}
